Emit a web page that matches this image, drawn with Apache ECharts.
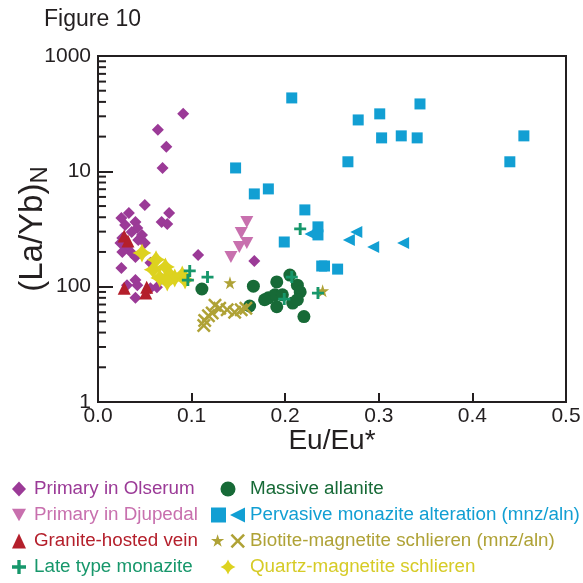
<!DOCTYPE html>
<html>
<head>
<meta charset="utf-8">
<script src="https://cdn.jsdelivr.net/npm/echarts@6/dist/echarts.min.js"></script>
<style>
html,body{margin:0;padding:0;background:#fff;}
#chart{width:583px;height:583px;}
</style>
</head>
<body>
<div id="chart"></div>
<script>
// ---- data (x = Eu/Eu*, y = (La/Yb)N on the plotted log scale) ----
var olserum = [[0.091,315],[0.064,229],[0.073,163],[0.069,107],[0.050,51],[0.033,43.6],[0.076,43.6],[0.025,39.4],[0.040,36.4],[0.068,36.4],[0.074,35],[0.029,34.3],[0.042,32.3],[0.036,29.8],[0.047,28.1],[0.026,26.4],[0.043,25.4],[0.050,23.9],[0.024,23.9],[0.031,21.7],[0.036,19.6],[0.026,20],[0.040,18.1],[0.056,16.1],[0.107,18.8],[0.167,16.7],[0.025,14.5],[0.040,11.4],[0.031,10.3],[0.042,10.3],[0.056,9.7],[0.063,9.9],[0.068,11.7],[0.040,8.0]];
var djupedal = [[0.159,36.4],[0.153,29.2],[0.159,23.9],[0.151,22.1],[0.142,18.1]];
var granite = [[0.028,27.5],[0.032,24.9],[0.028,9.7],[0.052,9.9],[0.051,8.8]];
var lateType = [[0.098,13.7],[0.096,11.4],[0.117,12.1],[0.216,31.7],[0.207,12.1],[0.199,7.8],[0.235,8.8]];
var massive = [[0.111,9.55],[0.166,10.1],[0.162,6.8],[0.191,11.0],[0.205,12.6],[0.213,10.3],[0.216,9.0],[0.182,8.0],[0.189,8.5],[0.191,6.7],[0.197,8.5],[0.208,7.2],[0.213,7.7],[0.220,5.5],[0.178,7.7]];
var pervasiveSquares = [[0.207,433],[0.344,384],[0.301,315],[0.278,279],[0.303,195],[0.324,203],[0.341,195],[0.455,203],[0.267,121],[0.440,121],[0.147,107],[0.182,70.4],[0.167,63.7],[0.221,46.3],[0.235,33],[0.235,28.1],[0.199,24.4],[0.239,15.1],[0.242,15.1],[0.256,14.2]];
var pervasiveTriangles = [[0.227,28.6],[0.276,29.8],[0.268,25.4],[0.294,22.1],[0.326,23.9]];
var biotiteStars = [[0.141,10.8],[0.240,9.2]];
var biotiteCrosses = [[0.125,6.9],[0.130,6.5],[0.122,5.9],[0.114,5.1],[0.113,4.6],[0.138,6.3],[0.146,6.0],[0.153,6.3],[0.158,6.5],[0.118,5.6]];
var quartz = [[0.047,19.6],[0.062,17.1],[0.059,14.0],[0.072,14.8],[0.077,12.6],[0.066,11.9],[0.082,11.9],[0.090,12.6],[0.093,11.4],[0.074,11.0]];

// axis ticks / labels
var xTicks = [0.0,0.1,0.2,0.3,0.4,0.5];
var yTickValues = [1,10,100,1000];
var yTickLabels = ['1','100','10','1000'];
var yMinorTicks = [2,3,4,5,6,7,8,9,20,30,40,50,60,70,80,90,200,300,400,500,600,700,800,900];

// names
var N_OLS = 'Primary in Olserum', N_DJU = 'Primary in Djupedal', N_GRA = 'Granite-hosted vein',
    N_LATE = 'Late type monazite', N_MAS = 'Massive allanite', N_PER = 'Pervasive monazite alteration (mnz/aln)',
    N_BIO = 'Biotite-magnetite schlieren (mnz/aln)', N_QTZ = 'Quartz-magnetite schlieren';

var C = {
  ols:'#9b3a97', dju:'#c870ae', gra:'#b41f2b', late:'#17976b', mas:'#176a37',
  per:'#129fd3', bio:'#afa236', qtz:'#ddd21f', txt:'#231f20'
};

var PLUS = 'path://M3.8,0H6.2V3.8H10V6.2H6.2V10H3.8V6.2H0V3.8H3.8Z';
var XMARK = 'path://M14.56,1.83L9.12,7.28L14.56,12.73L12.73,14.56L7.28,9.12L1.83,14.56L0,12.73L5.44,7.28L0,1.83L1.83,0L7.28,5.44L12.73,0Z';
var STAR5 = 'path://M10,0L12.245,6.91L19.51,6.91L13.63,11.18L15.88,18.09L10,13.82L4.12,18.09L6.37,11.18L0.49,6.91L7.755,6.91Z';
var STAR4 = 'path://M5,0Q6.3,3.7,10,5Q6.3,6.3,5,10Q3.7,6.3,0,5Q3.7,3.7,5,0Z';
var DOWNTRI = 'path://M0,0L10,0L5,9Z';

// legend icons
var ICON_PER = 'path://M0,0H15V15H0Z M34,0L19,7.5L34,15Z';
var ICON_BIO = 'path://M7,0.5L8.57,5.34L13.66,5.34L9.54,8.33L11.12,13.16L7,10.17L2.88,13.16L4.46,8.33L0.34,5.34L5.43,5.34Z M34.56,1.83L29.12,7.28L34.56,12.73L32.73,14.56L27.28,9.12L21.83,14.56L20,12.73L25.44,7.28L20,1.83L21.83,0L27.28,5.44L32.73,0Z';

var FONT = 'Liberation Sans, Arial, sans-serif';

function pts(arr, extra) {
  return arr.map(function (p) {
    var o = {value: p};
    for (var k in extra) o[k] = extra[k];
    return o;
  });
}

var chart = echarts.init(document.getElementById('chart'), null, {renderer: 'canvas'});

var option = {
  animation: false,
  textStyle: {fontFamily: FONT},
  title: {
    text: 'Figure 10', left: 44, top: 8, padding: 0,
    textStyle: {fontSize: 23, fontWeight: 'normal', color: C.txt, fontFamily: FONT}
  },
  grid: {
    left: 98, right: 17, top: 56, bottom: 181,
    containLabel: false, outerBoundsMode: 'none',
    show: true, borderColor: C.txt, borderWidth: 2, backgroundColor: 'transparent'
  },
  xAxis: {
    type: 'value', min: 0, max: 0.5, interval: 0.1,
    name: 'Eu/Eu*', nameLocation: 'middle', nameGap: 25, nameMoveOverlap: false,
    nameTextStyle: {fontSize: 28, color: C.txt, fontFamily: FONT},
    axisLine: {lineStyle: {color: C.txt, width: 2}},
    axisTick: {inside: true, length: 9, lineStyle: {color: C.txt, width: 2}},
    axisLabel: {fontSize: 21, color: C.txt, margin: 4, fontFamily: FONT,
      formatter: function (v) { return v.toFixed(1); }},
    splitLine: {show: false}
  },
  yAxis: {
    type: 'log', logBase: 10, min: 1, max: 1000,
    name: '{a|(La/Yb)}{b|N}', nameLocation: 'middle', nameGap: 46, nameRotate: 90, nameMoveOverlap: false,
    nameTextStyle: {
      color: C.txt, fontFamily: FONT,
      rich: {
        a: {fontSize: 33, color: C.txt, fontFamily: FONT},
        b: {fontSize: 24, color: C.txt, fontFamily: FONT, padding: [14, 0, 0, 0]}
      }
    },
    axisLine: {lineStyle: {color: C.txt, width: 2}},
    axisTick: {inside: true, length: 15, lineStyle: {color: C.txt, width: 2}},
    axisLabel: {fontSize: 21, color: C.txt, margin: 7, fontFamily: FONT,
      formatter: function (v) {
        var i = Math.round(Math.log10(v));
        return yTickLabels[i] !== undefined ? yTickLabels[i] : '';
      }},
    splitLine: {show: false}
  },
  legend: [
    {
      left: 12, top: 479, padding: 0, orient: 'vertical', itemWidth: 14, itemHeight: 15, itemGap: 6,
      selectedMode: false,
      textStyle: {fontSize: 18.8, lineHeight: 20, fontFamily: FONT, padding: [0, 0, 0, 3]},
      data: [
        {name: N_OLS, icon: 'diamond', textStyle: {color: C.ols}},
        {name: N_DJU, icon: DOWNTRI, textStyle: {color: C.dju}},
        {name: N_GRA, icon: 'triangle', textStyle: {color: C.gra}},
        {name: N_LATE, icon: PLUS, textStyle: {color: C.late}}
      ]
    },
    {
      left: 211, top: 479, padding: 0, orient: 'vertical', itemWidth: 34, itemHeight: 15, itemGap: 6,
      selectedMode: false,
      textStyle: {fontSize: 18.8, lineHeight: 20, fontFamily: FONT},
      data: [
        {name: N_MAS, icon: 'circle', textStyle: {color: C.mas}},
        {name: N_PER, icon: ICON_PER, textStyle: {color: C.per}},
        {name: N_BIO, icon: ICON_BIO, textStyle: {color: C.bio}},
        {name: N_QTZ, icon: STAR4, textStyle: {color: '#d6cb26'}}
      ]
    }
  ],
  series: [
    {
      type: 'custom', name: 'minorTicks', silent: true, clip: false, z: 5,
      data: yMinorTicks.map(function (v) { return [0, v]; }),
      renderItem: function (params, api) {
        var p = api.coord([0, api.value(1)]);
        return {type: 'line', shape: {x1: p[0], y1: p[1], x2: p[0] + 8, y2: p[1]},
          style: {stroke: C.txt, lineWidth: 2}};
      }
    },
    {type: 'scatter', name: N_OLS, data: olserum, symbol: 'diamond', symbolSize: 12, itemStyle: {color: C.ols, opacity: 1}},
    {type: 'scatter', name: N_DJU, data: djupedal, symbol: DOWNTRI, symbolSize: [13, 12], itemStyle: {color: C.dju, opacity: 1}},
    {type: 'scatter', name: N_GRA, data: granite, symbol: 'triangle', symbolSize: 13, itemStyle: {color: C.gra, opacity: 1}},
    {type: 'scatter', name: N_QTZ, data: quartz, symbol: STAR4, symbolSize: 19, itemStyle: {color: C.qtz, opacity: 1}},
    {type: 'scatter', name: N_MAS, data: massive, symbol: 'circle', symbolSize: 13, itemStyle: {color: C.mas, opacity: 1}},
    {type: 'scatter', name: N_BIO,
      data: pts(biotiteStars, {symbol: STAR5, symbolSize: 13}).concat(pts(biotiteCrosses, {symbol: XMARK, symbolSize: 14})),
      itemStyle: {color: C.bio, opacity: 1}},
    {type: 'scatter', name: N_PER,
      data: pts(pervasiveSquares, {symbol: 'rect', symbolSize: 11}).concat(pts(pervasiveTriangles, {symbol: 'triangle', symbolSize: 12, symbolRotate: 90})),
      itemStyle: {color: C.per, opacity: 1}},
    {type: 'scatter', name: N_LATE, data: lateType, symbol: PLUS, symbolSize: 12, itemStyle: {color: C.late, opacity: 1}}
  ]
};
chart.setOption(option);
</script>
</body>
</html>
